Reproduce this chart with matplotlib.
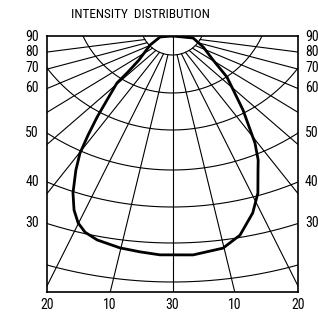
import numpy as np
import matplotlib
matplotlib.use("Agg")
import matplotlib.pyplot as plt
from matplotlib import font_manager as fm

# ---------------- data ----------------
title = "INTENSITY  DISTRIBUTION"
side_labels = ["90", "80", "70", "60", "50", "40", "30"]
bottom_labels = ["20", "10", "30", "10", "20"]

# intensity curve: angle (deg from nadir) and relative intensity (radial units)
curve_angle = [-90, -83.7, -61.1, -45.3, -41.9, -40.6, -36.6, -34.0, -31.7,
               -29.8, -27.6, -24.7, -22.3, -20.1, -17.9, -15.0, -10.2, -6.2,
               -2.4, 3.9, 9.8, 13.8, 18.2, 21.5, 24.8, 26.6, 29.2, 34.6,
               43.9, 50.7, 63.6, 82.3, 90]
curve_value = [0.0, 0.24, 0.49, 0.91, 1.28, 1.64, 2.11, 2.59, 3.09,
               3.58, 4.01, 4.58, 4.99, 5.28, 5.47, 5.60, 5.71, 5.76,
               5.81, 5.82, 5.71, 5.44, 4.94, 4.48, 3.92, 3.68, 3.25, 2.39,
               1.51, 1.01, 0.66, 0.40, 0.0]

# grid: meridian angles (deg from nadir)
meridian_angles = [-80, -70, -60, -50, -40, -30, -20, -10, 0,
                   10, 20, 30, 40, 50, 60, 70, 80]

# ---------------- layout ----------------
W, H = 318, 313
L, R, T, B = 47, 298, 36, 292          # box in pixels
TILT = 0.725                            # vertical foreshortening of the polar plane
UNIT = 52.0                             # pixels per radial unit
# rings (drawn as circular arcs): depth below the pole on the centre line,
# and one more point of the arc (horizontal offset, depth)
ring_depth = [19, 57, 94, 134, 171, 207, 246]
ring_side_dx = [29.5, 89.5, 125.5, 125.5, 125.5, 125.5, 125.5]
ring_side_depth = [0, 0, 32, 97, 146, 187.5, 229]
side_label_y = [37, 52, 68, 88, 133, 182, 223]
bottom_label_x = [47, 110, 172.5, 235, 298]

# pick a narrow sans if one is installed
narrow_path = None
pref = ["Liberation Sans Narrow", "Arial Narrow", "Roboto Condensed",
        "Open Sans Condensed", "DejaVu Sans"]
cands = []
for f in fm.fontManager.ttflist:
    is_narrow = ("Narrow" in f.name or "Condensed" in f.name
                 or f.stretch in ("condensed", "semi-condensed"))
    if is_narrow and str(f.weight) in ("400", "normal", "regular", "book") \
            and f.style == "normal":
        rank = pref.index(f.name) if f.name in pref else len(pref)
        cands.append((rank, f.fname))
if cands:
    cands.sort()
    narrow_path = cands[0][1]

if narrow_path:
    def fp(size):
        return fm.FontProperties(fname=narrow_path, size=size)
    title_size, digit_size = 9.5, 10
else:
    def fp(size):
        return fm.FontProperties(family=["Liberation Sans", "DejaVu Sans"],
                                 size=size)
    title_size, digit_size = 8.2, 9.4

fig = plt.figure(figsize=(W / 100, H / 100), dpi=100)
ax = fig.add_axes([L / W, 1 - B / H, (R - L) / W, (B - T) / H])
half = (R - L) / 2
ax.set_xlim(-half, half)
ax.set_ylim(-(B - T), 0)
ax.set_xticks([])
ax.set_yticks([])
for s in ax.spines.values():
    s.set_linewidth(1.2)
    s.set_color("black")


def proj(phi_deg, r):
    p = np.radians(np.asarray(phi_deg, dtype=float))
    r = np.asarray(r, dtype=float) * UNIT
    return r * np.sin(p), -TILT * r * np.cos(p)


# rings: circle through the centre-line point and the side point
ring_geo = []
for dc, sx, sd in zip(ring_depth, ring_side_dx, ring_side_depth):
    h = (sx ** 2 + sd ** 2 - dc ** 2) / (2.0 * (dc - sd))   # centre above pole
    rad = h + dc
    ring_geo.append((h, rad))
    t = np.linspace(0, 2 * np.pi, 1440)
    ax.plot(rad * np.cos(t), h + rad * np.sin(t), color="black", lw=0.8)

# meridians start on the innermost ring
h0, rad0 = ring_geo[0]
for a in meridian_angles:
    p = np.radians(a)
    d = np.array([np.sin(p), -TILT * np.cos(p)])
    d /= np.hypot(*d)
    if a == 0:
        t0 = 0.0
    else:
        t0 = h0 * d[1] + np.sqrt((h0 * d[1]) ** 2 + rad0 ** 2 - h0 ** 2)
    t1 = 600.0
    ax.plot([t0 * d[0], t1 * d[0]], [t0 * d[1], t1 * d[1]],
            color="black", lw=0.8)

# intensity curve
cx, cy = proj(curve_angle, curve_value)
ax.plot(cx, cy, color="black", lw=2.0, solid_joinstyle="round",
        solid_capstyle="round")


def fx(px):
    return px / W


def fy(py):
    return 1 - py / H


fig.text(fx(140.5), fy(14.5), title, ha="center", va="center",
         fontproperties=fp(title_size))
for lab, yy in zip(side_labels, side_label_y):
    fig.text(fx(39), fy(yy), lab, ha="right", va="center",
             fontproperties=fp(digit_size))
    fig.text(fx(305), fy(yy), lab, ha="left", va="center",
             fontproperties=fp(digit_size))
for lab, xx in zip(bottom_labels, bottom_label_x):
    fig.text(fx(xx), fy(305), lab, ha="center", va="center",
             fontproperties=fp(digit_size))

fig.savefig("out.png", dpi=100, facecolor="white")
